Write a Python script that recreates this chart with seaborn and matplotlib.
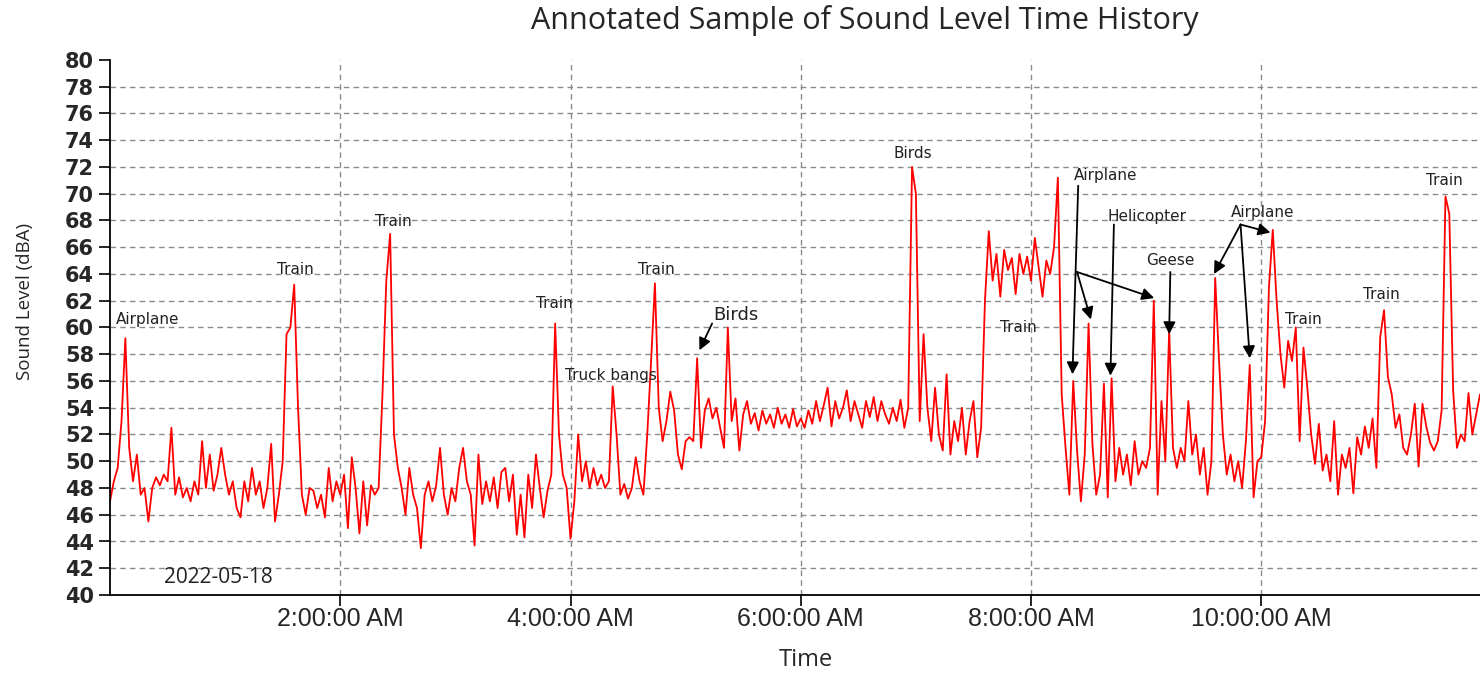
import numpy as np
import pandas as pd
import matplotlib
matplotlib.use("Agg")
import matplotlib.pyplot as plt
import seaborn as sns

# sound level readings (dBA), one value every 2 minutes, split by hour
hour0 = [47, 48.5, 49.5, 53, 59.2, 51, 48.5, 50.5, 47.5, 48, 45.5, 48, 48.8, 48.2, 49,
         48.5, 52.5, 47.5, 48.8, 47.3, 48, 47, 48.5, 47.5, 51.5, 48, 50.5, 47.8, 49, 51]
hour1 = [49, 47.5, 48.5, 46.5, 45.8, 48.5, 47, 49.5, 47.5, 48.5, 46.5, 48, 51.3, 45.5, 47.5,
         50, 59.5, 60, 63.2, 54, 47.5, 46, 48, 47.8, 46.5, 47.5, 45.8, 49.5, 47, 48.5]
hour2 = [47.5, 49, 45, 50.3, 48, 44.6, 48.5, 45.2, 48.2, 47.5, 48, 55, 63.5, 67, 52,
         49.5, 48, 46, 49.5, 47.5, 46.5, 43.5, 47.5, 48.5, 47, 48.2, 51, 47.5, 46, 48]
hour3 = [47, 49.5, 51, 48.5, 47.5, 43.7, 50.5, 46.8, 48.5, 47, 48.8, 46.5, 49.2, 49.5, 47,
         49, 44.5, 47.5, 44.3, 49, 46.5, 50.5, 48, 45.8, 47.8, 49, 60.3, 52, 49, 48]
hour4 = [44.2, 47, 52, 48.5, 50, 48, 49.5, 48.2, 49, 48, 48.5, 55.6, 52, 47.5, 48.3,
         47.2, 48, 50.3, 48.5, 47.5, 52, 57.5, 63.3, 54, 51.5, 53, 55.2, 53.8, 50.5, 49.4]
hour5 = [51.5, 51.8, 51.5, 57.7, 51, 53.8, 54.7, 53.2, 54, 52.5, 51, 60, 53, 54.7, 50.8,
         53.5, 54.5, 52.8, 53.6, 52.3, 53.8, 52.8, 53.5, 52.5, 54, 52.8, 53.5, 52.5, 53.9, 52.6]
hour6 = [53.2, 52.5, 53.8, 52.8, 54.5, 53, 54.2, 55.5, 52.6, 54.5, 53.2, 54, 55.3, 53, 54.5,
         53.5, 52.5, 54.5, 53.3, 54.8, 53, 54.5, 53.5, 52.8, 54, 53, 54.6, 52.5, 54, 72]
hour7 = [70, 53, 59.5, 54, 51.5, 55.5, 52, 50.8, 56.5, 50.5, 53, 51.5, 54, 50.5, 53,
         54.5, 50.3, 52.5, 62, 67.2, 63.5, 65.5, 62.3, 65.8, 64.3, 65.2, 62.5, 65.5, 64, 65.3]
hour8 = [63.5, 66.7, 64.5, 62.3, 65, 64, 66, 71.2, 55, 51, 47.5, 56, 50.8, 47, 50.5,
         60.3, 51.3, 47.5, 49, 55.8, 47.3, 56.2, 48.5, 51, 49, 50.5, 48.2, 51.5, 49, 50]
hour9 = [49.5, 51, 62, 47.5, 54.5, 50, 59.8, 51, 49.5, 51, 50, 54.5, 50.5, 52, 49,
         51, 47.5, 50, 63.7, 57.5, 52, 49, 50.5, 48.5, 50, 48, 51.5, 57.2, 47.3, 50]
hour10 = [50.3, 53, 63, 67.3, 62, 58, 55.5, 59, 57.5, 60, 51.5, 58.5, 55.5, 52, 49.8,
          52.8, 49.3, 50.5, 48.5, 53, 47.5, 50.5, 49.5, 51, 47.6, 51.8, 50.5, 52.6, 51, 53.2]
hour11 = [49.5, 59.3, 61.3, 56.3, 55, 52.5, 53.5, 51, 50.5, 52, 54.3, 49.6, 54.3, 52.6,
          51.4, 50.8, 51.5, 53.8, 69.8, 68.5, 55.3, 51, 52, 51.5, 55.1, 52, 53.5, 55]

tick_hours = [2, 4, 6, 8, 10]
tick_labels = ["2:00:00 AM", "4:00:00 AM", "6:00:00 AM", "8:00:00 AM", "10:00:00 AM"]

level = np.concatenate([hour0, hour1, hour2, hour3, hour4, hour5, hour6,
                        hour7, hour8, hour9, hour10, hour11])
df = pd.DataFrame({"hours": np.arange(len(level)) * 2 / 60, "level": level})

sns.set_theme(style="white")
plt.rcParams['font.family'] = ['DejaVu Sans']

fig = plt.figure(figsize=(14.8, 6.75), dpi=100)
ax = fig.add_axes([110 / 1480, 80 / 675, 1370 / 1480, 535 / 675])

sns.lineplot(data=df, x="hours", y="level", color="#ff0000", linewidth=1.3, ax=ax)

ax.set_xlim(0, 11.9)
ax.set_ylim(40, 80)
ax.set_yticks(range(40, 81, 2))
ax.set_xticks(tick_hours)
ax.set_xticklabels(tick_labels, fontfamily="Liberation Sans", fontsize=18)
for lab in ax.get_yticklabels():
    lab.set_fontweight("bold")
    lab.set_fontsize(15)

ax.grid(True, linestyle=(0, (4, 3)), color="#8a8a8a", linewidth=1)
ax.get_ygridlines()[-1].set_visible(False)
ax.get_ygridlines()[0].set_visible(False)

ax.tick_params(axis="both", direction="out", length=8, width=1.2, color="black",
               left=True, bottom=True)
ax.tick_params(axis="x", pad=1)
for side in ["top", "right"]:
    ax.spines[side].set_visible(False)
for side in ["left", "bottom"]:
    ax.spines[side].set_color("black")
    ax.spines[side].set_linewidth(1.3)

ax.set_xlabel("Time", fontfamily="Open Sans", fontsize=17)
ax.xaxis.set_label_coords((806 - 110) / 1370, (595 - 660) / 535)
ax.xaxis.label.set_va("center")
ax.set_ylabel("Sound Level (dBA)", fontfamily="Open Sans", fontsize=13.5)
ax.yaxis.set_label_coords((25 - 110) / 1370, (595 - 301) / 535)
ax.yaxis.label.set_va("center")
fig.text(865 / 1480, 1 - 21 / 675, "Annotated Sample of Sound Level Time History",
         ha="center", va="center", fontfamily="Open Sans", fontsize=22)

# event labels
small = dict(fontsize=11, ha="center", va="center", color="#222222")
ax.text(0.33, 60.6, "Airplane", **small)
ax.text(1.61, 64.3, "Train", **small)
ax.text(2.46, 67.9, "Train", **small)
ax.text(3.86, 61.8, "Train", **small)
ax.text(4.35, 56.4, "Truck bangs", **small)
ax.text(4.75, 64.3, "Train", **small)
ax.text(5.44, 60.9, "Birds", fontsize=13, ha="center", va="center", color="#222222")
ax.text(6.97, 73.0, "Birds", **small)
ax.text(7.89, 60.0, "Train", **small)
ax.text(8.65, 71.4, "Airplane", **small)
ax.text(9.01, 68.3, "Helicopter", **small)
ax.text(9.21, 65.0, "Geese", **small)
ax.text(10.01, 68.6, "Airplane", **small)
ax.text(10.37, 60.6, "Train", **small)
ax.text(11.04, 62.5, "Train", **small)
ax.text(11.59, 71.0, "Train", **small)
ax.text(0.94, 41.3, "2022-05-18", fontfamily="Open Sans", fontsize=15,
        ha="center", va="center", color="#222222")

arrow = dict(arrowstyle="-|>", color="black", lw=1.3, mutation_scale=18,
             shrinkA=0, shrinkB=0)
arrows = [
    ((5.23, 60.3), (5.12, 58.3)),
    ((8.41, 70.6), (8.36, 56.5)),
    ((8.40, 64.15), (8.52, 60.6)),
    ((8.40, 64.15), (9.07, 62.2)),
    ((8.72, 67.7), (8.69, 56.4)),
    ((9.21, 64.15), (9.20, 59.5)),
    ((9.82, 67.7), (9.59, 64.0)),
    ((9.82, 67.7), (9.90, 57.7)),
    ((9.82, 67.7), (10.08, 67.1)),
]
for start, end in arrows:
    ax.annotate("", xy=end, xytext=start, arrowprops=arrow)

fig.savefig("out.png", dpi=100)
